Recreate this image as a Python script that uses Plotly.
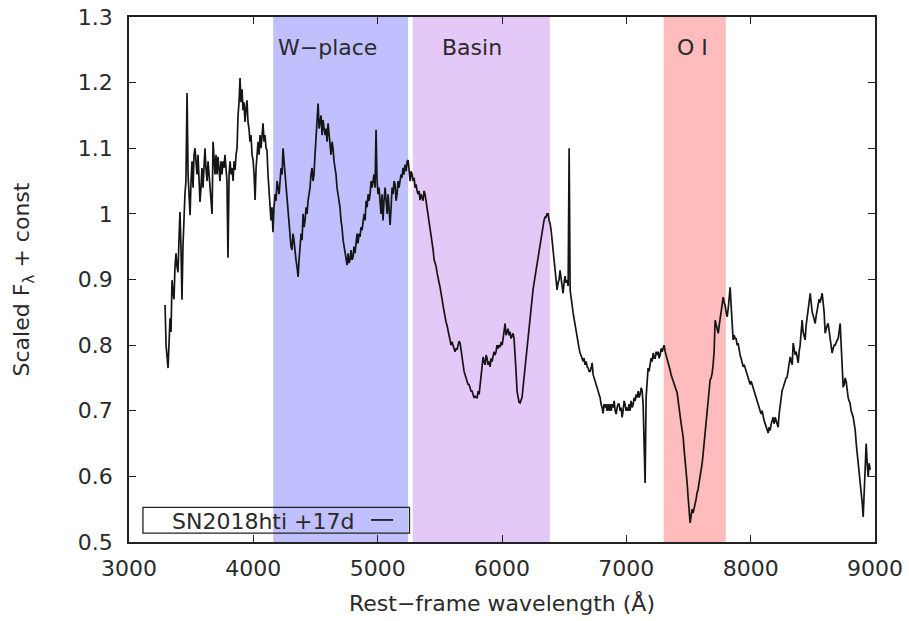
import plotly.graph_objects as go

# Rest-frame spectrum of SN2018hti at +17 d (wavelength in Angstrom, scaled flux)
wavelength = [
    3290, 3298, 3314, 3322, 3330, 3338, 3346, 3354, 3362, 3370,
    3378, 3386, 3394, 3402, 3410, 3418, 3426, 3434, 3442, 3450,
    3458, 3467, 3475, 3483, 3491, 3499, 3507, 3515, 3523, 3531,
    3539, 3547, 3555, 3563, 3571, 3579, 3587, 3595, 3603, 3611,
    3619, 3628, 3636, 3644, 3652, 3660, 3668, 3676, 3684, 3692,
    3700, 3708, 3716, 3724, 3732, 3740, 3748, 3756, 3764, 3772,
    3780, 3788, 3796, 3805, 3813, 3821, 3829, 3837, 3845, 3853,
    3861, 3869, 3877, 3885, 3893, 3901, 3909, 3917, 3925, 3933,
    3941, 3949, 3957, 3965, 3973, 3981, 3990, 3998, 4006, 4014,
    4022, 4030, 4038, 4046, 4054, 4062, 4070, 4078, 4086, 4094,
    4102, 4110, 4118, 4126, 4134, 4142, 4150, 4158, 4166, 4175,
    4183, 4191, 4199, 4207, 4215, 4223, 4231, 4239, 4247, 4255,
    4263, 4271, 4279, 4287, 4295, 4303, 4311, 4319, 4327, 4335,
    4343, 4351, 4360, 4368, 4376, 4384, 4392, 4400, 4408, 4416,
    4424, 4432, 4440, 4448, 4456, 4464, 4472, 4480, 4488, 4496,
    4505, 4513, 4521, 4529, 4537, 4545, 4553, 4561, 4569, 4577,
    4585, 4593, 4601, 4609, 4617, 4625, 4633, 4641, 4649, 4657,
    4665, 4673, 4681, 4689, 4697, 4705, 4713, 4722, 4730, 4738,
    4746, 4754, 4762, 4770, 4778, 4786, 4794, 4802, 4810, 4818,
    4826, 4834, 4842, 4850, 4858, 4866, 4874, 4883, 4891, 4899,
    4907, 4915, 4923, 4931, 4939, 4947, 4955, 4963, 4971, 4979,
    4987, 4995, 5003, 5011, 5019, 5027, 5035, 5043, 5051, 5060,
    5068, 5076, 5084, 5092, 5100, 5108, 5116, 5124, 5132, 5140,
    5148, 5156, 5164, 5172, 5180, 5188, 5196, 5204, 5212, 5220,
    5229, 5237, 5245, 5253, 5261, 5269, 5277, 5285, 5293, 5301,
    5309, 5317, 5325, 5333, 5341, 5349, 5357, 5365, 5373, 5381,
    5389, 5397, 5405, 5413, 5422, 5430, 5438, 5446, 5454, 5462,
    5470, 5478, 5486, 5494, 5502, 5510, 5518, 5526, 5534, 5542,
    5550, 5558, 5566, 5574, 5582, 5590, 5598, 5606, 5614, 5622,
    5630, 5639, 5647, 5655, 5663, 5671, 5679, 5687, 5695, 5703,
    5711, 5719, 5727, 5735, 5743, 5751, 5759, 5767, 5775, 5783,
    5792, 5800, 5808, 5816, 5824, 5832, 5840, 5848, 5856, 5864,
    5872, 5880, 5888, 5896, 5904, 5912, 5920, 5928, 5936, 5944,
    5952, 5960, 5968, 5977, 5985, 5993, 6001, 6009, 6017, 6025,
    6033, 6041, 6049, 6057, 6065, 6073, 6081, 6089, 6097, 6105,
    6113, 6121, 6129, 6137, 6145, 6153, 6161, 6169, 6177, 6186,
    6194, 6202, 6210, 6218, 6226, 6234, 6242, 6250, 6258, 6266,
    6274, 6282, 6290, 6298, 6306, 6314, 6322, 6330, 6338, 6346,
    6354, 6362, 6371, 6379, 6387, 6395, 6403, 6411, 6419, 6427,
    6435, 6443, 6451, 6459, 6467, 6475, 6483, 6491, 6499, 6507,
    6515, 6524, 6532, 6540, 6548, 6556, 6564, 6572, 6580, 6588,
    6596, 6604, 6612, 6620, 6628, 6636, 6644, 6652, 6660, 6668,
    6677, 6685, 6693, 6701, 6709, 6717, 6725, 6733, 6741, 6749,
    6757, 6765, 6773, 6781, 6789, 6797, 6805, 6813, 6821, 6829,
    6837, 6845, 6853, 6862, 6870, 6878, 6886, 6894, 6902, 6910,
    6918, 6926, 6934, 6942, 6950, 6958, 6966, 6974, 6982, 6990,
    6998, 7006, 7014, 7022, 7030, 7038, 7047, 7055, 7063, 7071,
    7079, 7087, 7095, 7103, 7111, 7119, 7127, 7135, 7143, 7151,
    7159, 7167, 7175, 7183, 7191, 7199, 7207, 7216, 7224, 7232,
    7240, 7248, 7256, 7264, 7272, 7280, 7288, 7296, 7304, 7312,
    7320, 7328, 7336, 7344, 7352, 7360, 7368, 7376, 7384, 7392,
    7400, 7409, 7417, 7425, 7433, 7441, 7449, 7457, 7465, 7473,
    7481, 7489, 7497, 7505, 7513, 7521, 7529, 7537, 7545, 7553,
    7561, 7569, 7577, 7585, 7594, 7602, 7610, 7618, 7626, 7634,
    7642, 7650, 7658, 7666, 7674, 7682, 7690, 7698, 7706, 7714,
    7722, 7730, 7739, 7747, 7755, 7763, 7771, 7779, 7787, 7795,
    7803, 7811, 7819, 7827, 7835, 7843, 7851, 7859, 7867, 7875,
    7883, 7891, 7899, 7907, 7915, 7923, 7931, 7940, 7948, 7956,
    7964, 7972, 7980, 7988, 7996, 8004, 8012, 8020, 8028, 8036,
    8044, 8052, 8060, 8068, 8076, 8084, 8092, 8100, 8108, 8117,
    8125, 8133, 8141, 8149, 8157, 8165, 8173, 8181, 8189, 8197,
    8205, 8213, 8221, 8229, 8237, 8245, 8253, 8261, 8269, 8277,
    8285, 8293, 8301, 8310, 8318, 8326, 8334, 8342, 8350, 8358,
    8366, 8374, 8382, 8390, 8398, 8406, 8414, 8422, 8430, 8438,
    8446, 8454, 8462, 8470, 8479, 8487, 8495, 8503, 8511, 8519,
    8527, 8535, 8543, 8551, 8559, 8567, 8575, 8583, 8591, 8599,
    8607, 8615, 8623, 8631, 8639, 8647, 8655, 8663, 8672, 8680,
    8688, 8696, 8704, 8712, 8720, 8728, 8736, 8744, 8752, 8760,
    8768, 8776, 8784, 8792, 8800, 8808, 8817, 8825, 8833, 8841,
    8849, 8857, 8865, 8873, 8881, 8889, 8897, 8905, 8913, 8921,
    8929, 8937, 8945, 8953, 8961,
]
flux = [
    0.861, 0.800, 0.765, 0.800, 0.841, 0.820, 0.899, 0.880, 0.870, 0.920,
    0.940, 0.920, 0.911, 0.960, 1.003, 0.950, 0.869, 0.950, 1.000, 1.030,
    1.050, 1.184, 1.060, 1.030, 0.998, 1.050, 1.080, 1.040, 1.090, 1.100,
    1.070, 1.060, 1.090, 1.050, 1.018, 1.040, 1.070, 1.040, 1.080, 1.100,
    1.070, 1.050, 1.080, 1.060, 1.040, 1.020, 1.000, 1.110, 1.080, 1.060,
    1.090, 1.060, 1.087, 1.070, 1.050, 1.080, 1.060, 1.080, 1.070, 1.090,
    1.070, 1.050, 0.933, 1.060, 1.080, 1.060, 1.070, 1.050, 1.080, 1.067,
    1.090, 1.100, 1.150, 1.170, 1.207, 1.170, 1.190, 1.158, 1.170, 1.140,
    1.160, 1.173, 1.140, 1.130, 1.110, 1.120, 1.090, 1.082, 1.060, 1.021,
    1.070, 1.090, 1.110, 1.090, 1.120, 1.100, 1.120, 1.138, 1.110, 1.120,
    1.100, 1.097, 1.060, 1.040, 1.020, 0.990, 1.010, 0.972, 1.010, 1.030,
    1.020, 1.050, 1.040, 1.030, 1.050, 1.070, 1.060, 1.100, 1.080, 1.060,
    1.040, 1.030, 1.010, 0.990, 0.970, 0.950, 0.945, 0.970, 0.960, 0.940,
    0.930, 0.920, 0.904, 0.930, 0.950, 0.970, 0.960, 1.000, 0.980, 0.990,
    1.010, 1.000, 1.020, 1.030, 1.040, 1.060, 1.070, 1.050, 1.060, 1.090,
    1.120, 1.140, 1.168, 1.130, 1.140, 1.150, 1.120, 1.143, 1.130, 1.120,
    1.130, 1.110, 1.138, 1.120, 1.110, 1.090, 1.110, 1.100, 1.080, 1.070,
    1.060, 1.040, 1.030, 1.020, 1.010, 0.990, 0.980, 0.960, 0.950, 0.935,
    0.930, 0.922, 0.940, 0.925, 0.930, 0.945, 0.930, 0.934, 0.950, 0.940,
    0.955, 0.970, 0.955, 0.970, 0.965, 0.980, 0.975, 0.990, 1.000, 0.990,
    1.020, 1.010, 1.030, 1.020, 1.030, 1.050, 1.040, 1.050, 1.060, 1.040,
    1.128, 1.050, 1.030, 1.040, 1.020, 1.000, 1.030, 0.990, 1.020, 1.040,
    1.020, 1.000, 1.030, 1.010, 0.983, 1.010, 1.040, 1.030, 1.050, 1.045,
    1.020, 1.030, 1.050, 1.040, 1.050, 1.060, 1.055, 1.070, 1.060, 1.075,
    1.065, 1.080, 1.082, 1.070, 1.050, 1.065, 1.060, 1.050, 1.055, 1.040,
    1.045, 1.035, 1.030, 1.035, 1.021, 1.030, 1.025, 1.020, 1.035, 1.030,
    1.020, 1.010, 1.000, 0.990, 0.980, 0.965, 0.955, 0.945, 0.930, 0.925,
    0.920, 0.910, 0.900, 0.895, 0.888, 0.875, 0.870, 0.860, 0.850, 0.840,
    0.835, 0.830, 0.820, 0.815, 0.808, 0.800, 0.805, 0.800, 0.795, 0.790,
    0.795, 0.793, 0.800, 0.806, 0.803, 0.790, 0.780, 0.770, 0.760, 0.755,
    0.750, 0.747, 0.740, 0.740, 0.735, 0.730, 0.730, 0.725, 0.720, 0.722,
    0.720, 0.720, 0.730, 0.725, 0.740, 0.750, 0.770, 0.782, 0.775, 0.770,
    0.785, 0.780, 0.770, 0.775, 0.767, 0.780, 0.775, 0.785, 0.790, 0.785,
    0.790, 0.800, 0.795, 0.800, 0.797, 0.805, 0.800, 0.810, 0.820, 0.833,
    0.815, 0.820, 0.825, 0.815, 0.820, 0.810, 0.815, 0.818, 0.810, 0.790,
    0.760, 0.730, 0.720, 0.713, 0.712, 0.715, 0.720, 0.735, 0.750, 0.767,
    0.785, 0.800, 0.810, 0.830, 0.849, 0.860, 0.875, 0.885, 0.895, 0.905,
    0.915, 0.925, 0.935, 0.945, 0.955, 0.965, 0.975, 0.986, 0.990, 0.995,
    0.995, 1.000, 1.000, 0.990, 0.985, 0.975, 0.960, 0.950, 0.935, 0.920,
    0.900, 0.884, 0.895, 0.900, 0.914, 0.900, 0.890, 0.879, 0.895, 0.905,
    0.895, 0.899, 0.890, 1.100, 0.884, 0.870, 0.860, 0.849, 0.840, 0.830,
    0.820, 0.808, 0.800, 0.795, 0.788, 0.785, 0.780, 0.775, 0.780, 0.770,
    0.775, 0.767, 0.765, 0.760, 0.760, 0.765, 0.773, 0.755, 0.750, 0.745,
    0.740, 0.735, 0.730, 0.725, 0.720, 0.710, 0.705, 0.696, 0.710, 0.705,
    0.710, 0.700, 0.710, 0.700, 0.710, 0.700, 0.710, 0.705, 0.715, 0.700,
    0.695, 0.705, 0.710, 0.710, 0.700, 0.705, 0.690, 0.700, 0.715, 0.710,
    0.700, 0.705, 0.700, 0.710, 0.700, 0.715, 0.705, 0.710, 0.720, 0.715,
    0.725, 0.720, 0.730, 0.720, 0.725, 0.735, 0.731, 0.710, 0.650, 0.590,
    0.720, 0.750, 0.765, 0.760, 0.770, 0.780, 0.775, 0.788, 0.780, 0.780,
    0.790, 0.785, 0.790, 0.780, 0.785, 0.795, 0.790, 0.797, 0.800, 0.790,
    0.785, 0.780, 0.775, 0.770, 0.762, 0.755, 0.750, 0.745, 0.740, 0.735,
    0.730, 0.727, 0.715, 0.700, 0.690, 0.680, 0.670, 0.660, 0.640, 0.625,
    0.610, 0.590, 0.568, 0.545, 0.529, 0.540, 0.550, 0.544, 0.550, 0.555,
    0.565, 0.575, 0.580, 0.590, 0.599, 0.610, 0.620, 0.635, 0.650, 0.670,
    0.685, 0.700, 0.710, 0.730, 0.747, 0.750, 0.757, 0.770, 0.790, 0.838,
    0.830, 0.825, 0.818, 0.830, 0.840, 0.850, 0.860, 0.873, 0.865, 0.860,
    0.850, 0.843, 0.855, 0.870, 0.888, 0.860, 0.830, 0.808, 0.815, 0.810,
    0.810, 0.800, 0.803, 0.790, 0.785, 0.780, 0.775, 0.767, 0.770, 0.765,
    0.760, 0.755, 0.750, 0.745, 0.740, 0.745, 0.740, 0.735, 0.730, 0.725,
    0.720, 0.715, 0.710, 0.705, 0.700, 0.695, 0.700, 0.690, 0.685, 0.680,
    0.675, 0.670, 0.666, 0.675, 0.670, 0.680, 0.685, 0.690, 0.680, 0.690,
    0.685, 0.680, 0.675, 0.695, 0.710, 0.720, 0.731, 0.735, 0.740, 0.745,
    0.750, 0.751, 0.760, 0.770, 0.782, 0.775, 0.770, 0.803, 0.795, 0.785,
    0.790, 0.780, 0.773, 0.790, 0.800, 0.820, 0.838, 0.820, 0.815, 0.808,
    0.830, 0.840, 0.850, 0.865, 0.879, 0.860, 0.850, 0.845, 0.840, 0.833,
    0.845, 0.855, 0.860, 0.870, 0.865, 0.875, 0.879, 0.865, 0.850, 0.818,
    0.825, 0.830, 0.833, 0.820, 0.810, 0.800, 0.788, 0.795, 0.800, 0.800,
    0.805, 0.808, 0.810, 0.820, 0.833, 0.800, 0.767, 0.736, 0.740, 0.750,
    0.745, 0.730, 0.720, 0.715, 0.711, 0.700, 0.695, 0.690, 0.680, 0.670,
    0.650, 0.635, 0.630, 0.610, 0.599, 0.580, 0.560, 0.538, 0.580, 0.620,
    0.650, 0.620, 0.599, 0.620, 0.610,
]
assert len(wavelength) == len(flux)

# Shaded spectral regions
region_labels = ["W\u2212place", "Basin", "O I"]
region_start = [4160, 5282, 7300]
region_end = [5245, 6385, 7800]
region_colors = ["#c0c0ff", "#e4c8f8", "#ffbcbc"]
region_label_x = [4597, 5759, 7533]
region_label_y = 1.253

x_ticks = [3000, 4000, 5000, 6000, 7000, 8000, 9000]
y_ticks = [0.5, 0.6, 0.7, 0.8, 0.9, 1.0, 1.1, 1.2, 1.3]
y_tick_text = ["0.5", "0.6", "0.7", "0.8", "0.9", "1", "1.1", "1.2", "1.3"]

FONT = "DejaVu Sans, sans-serif"
FS = 22
TXT = "#2a2a2a"

fig = go.Figure()

fig.add_trace(go.Scatter(
    x=wavelength, y=flux, mode="lines",
    line=dict(color="#151515", width=1.7),
    name="SN2018hti +17d", showlegend=False,
))

shapes = []
annotations = []
for lab, x0, x1, col, lx in zip(region_labels, region_start, region_end, region_colors, region_label_x):
    shapes.append(dict(type="rect", xref="x", yref="y domain", x0=x0, x1=x1, y0=0, y1=1,
                       fillcolor=col, line=dict(width=0), layer="below"))
    annotations.append(dict(x=lx, y=region_label_y, xref="x", yref="y", text=lab, showarrow=False,
                            xanchor="center", yanchor="middle",
                            font=dict(family=FONT, size=FS, color=TXT)))

# Key box in the lower-left corner: label followed by a line sample
shapes.append(dict(type="rect", xref="paper", yref="paper", x0=0.0187, x1=0.376, y0=0.017, y1=0.066,
                   line=dict(color="#222222", width=1.3), fillcolor="rgba(0,0,0,0)", layer="above"))
shapes.append(dict(type="line", xref="paper", yref="paper", x0=0.3245, x1=0.354, y0=0.042, y1=0.042,
                   line=dict(color="#151515", width=1.7), layer="above"))
annotations.append(dict(x=0.1796, y=0.040, xref="paper", yref="paper", text="SN2018hti +17d",
                        showarrow=False, xanchor="center", yanchor="middle",
                        font=dict(family=FONT, size=FS, color=TXT)))

axis_common = dict(
    showline=True, linecolor="#222222", linewidth=1.6, mirror="ticks",
    ticks="inside", ticklen=7, tickwidth=1.2, tickcolor="#222222",
    showgrid=False, zeroline=False, automargin=False,
    tickfont=dict(family=FONT, size=FS, color=TXT),
)

fig.update_layout(
    width=909, height=621,
    margin=dict(l=129, r=34, t=17, b=79),
    paper_bgcolor="white", plot_bgcolor="white",
    shapes=shapes, annotations=annotations,
    xaxis=dict(range=[3000, 9000], tickvals=x_ticks, ticktext=[str(v) for v in x_ticks],
               ticklabelstandoff=6,
               title=dict(text="Rest\u2212frame wavelength (\u00c5)", standoff=15,
                          font=dict(family=FONT, size=FS, color=TXT)),
               **axis_common),
    yaxis=dict(range=[0.5, 1.3], tickvals=y_ticks, ticktext=y_tick_text,
               ticklabelstandoff=10,
               title=dict(text="Scaled F<sub>\u03bb</sub> + const", standoff=42,
                          font=dict(family=FONT, size=FS, color=TXT)),
               **axis_common),
)

fig.write_html("out.html")
